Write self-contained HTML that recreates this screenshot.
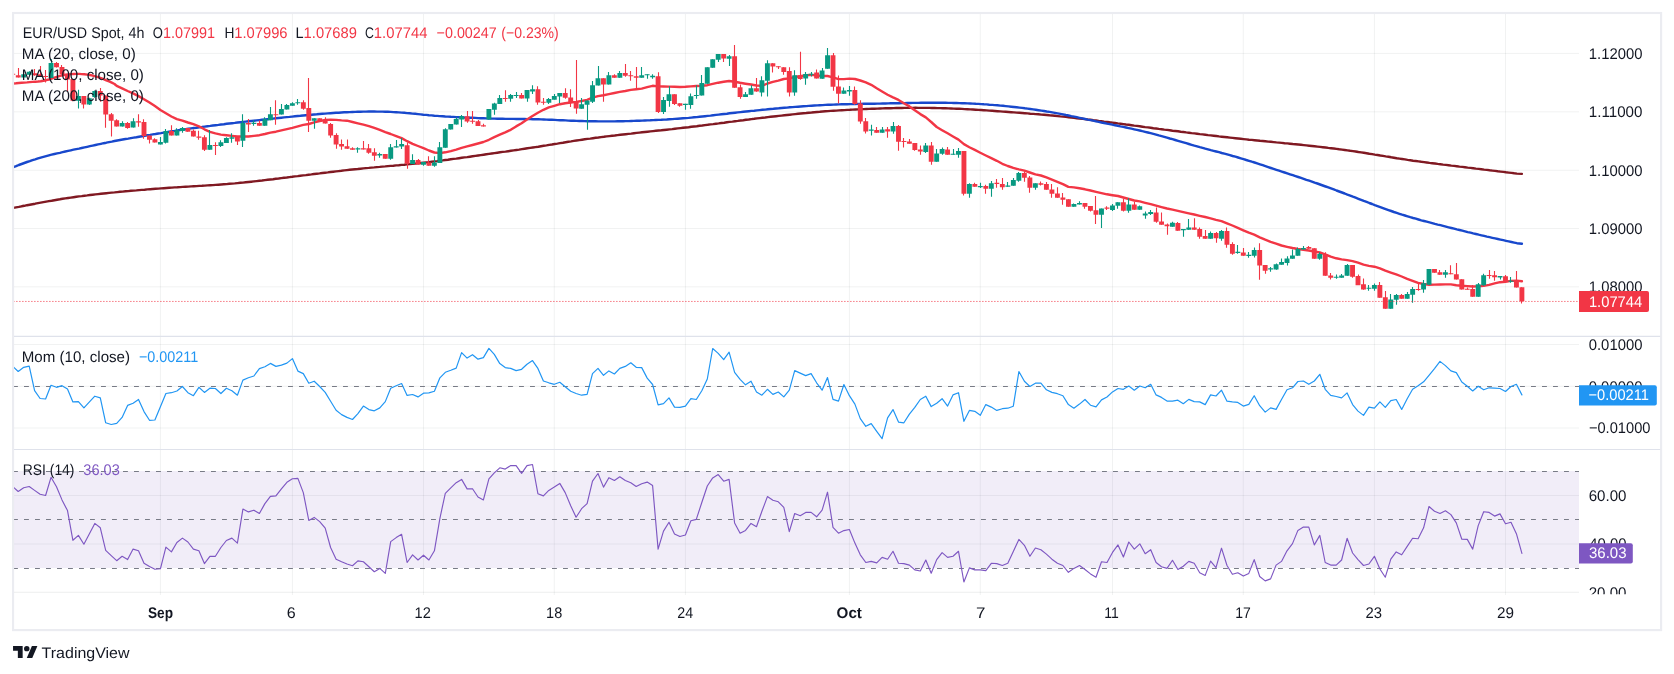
<!DOCTYPE html>
<html><head><meta charset="utf-8"><title>EUR/USD Spot 4h</title>
<style>html,body{margin:0;padding:0;background:#fff}svg{display:block;will-change:transform}</style></head>
<body>
<svg width="1674" height="674" viewBox="0 0 1674 674" text-rendering="geometricPrecision" font-family='"Liberation Sans", Arial, sans-serif'>
<rect width="1674" height="674" fill="#fff"/>
<g stroke="#33363a" stroke-opacity="0.065" stroke-width="1">
<line x1="160.4" y1="14" x2="160.4" y2="595"/>
<line x1="292.4" y1="14" x2="292.4" y2="595"/>
<line x1="423.5" y1="14" x2="423.5" y2="595"/>
<line x1="554.3" y1="14" x2="554.3" y2="595"/>
<line x1="685.4" y1="14" x2="685.4" y2="595"/>
<line x1="849.4" y1="14" x2="849.4" y2="595"/>
<line x1="980.3" y1="14" x2="980.3" y2="595"/>
<line x1="1112.5" y1="14" x2="1112.5" y2="595"/>
<line x1="1243.3" y1="14" x2="1243.3" y2="595"/>
<line x1="1374.4" y1="14" x2="1374.4" y2="595"/>
<line x1="1505.5" y1="14" x2="1505.5" y2="595"/>
<line x1="14" y1="53.4" x2="1579" y2="53.4"/>
<line x1="14" y1="111.8" x2="1579" y2="111.8"/>
<line x1="14" y1="170.3" x2="1579" y2="170.3"/>
<line x1="14" y1="228.5" x2="1579" y2="228.5"/>
<line x1="14" y1="286.8" x2="1579" y2="286.8"/>
<line x1="14" y1="344.5" x2="1579" y2="344.5"/>
<line x1="14" y1="386.3" x2="1579" y2="386.3"/>
<line x1="14" y1="428.0" x2="1579" y2="428.0"/>
<line x1="14" y1="495.5" x2="1579" y2="495.5"/>
<line x1="14" y1="544.0" x2="1579" y2="544.0"/>
</g>
<rect x="14" y="471.0" width="1565" height="97.0" fill="#7e57c2" fill-opacity="0.11"/>
<g stroke="#787b86" stroke-width="1" stroke-dasharray="4.9 6.1">
<clipPath id="c5"><rect x="14" y="14" width="1565" height="600"/></clipPath>
<line x1="13" y1="386.5" x2="1580" y2="386.5" clip-path="url(#c5)"/>
<line x1="13" y1="471.5" x2="1580" y2="471.5" clip-path="url(#c5)"/>
<line x1="13" y1="519.5" x2="1580" y2="519.5" clip-path="url(#c5)"/>
<line x1="13" y1="568.5" x2="1580" y2="568.5" clip-path="url(#c5)"/>
</g>
<clipPath id="c1"><rect x="12.8" y="14" width="1566.2" height="322"/></clipPath>
<clipPath id="c3"><rect x="14" y="450" width="1565" height="143"/></clipPath>
<g clip-path="url(#c1)">
<polyline points="13.4,207.9 16.1,207.4 18.8,206.9 21.6,206.3 24.3,205.8 27.0,205.2 29.8,204.7 32.5,204.2 35.2,203.7 38.0,203.1 40.7,202.6 43.4,202.1 46.2,201.6 48.9,201.1 51.6,200.7 54.4,200.2 57.1,199.7 59.9,199.3 62.6,198.8 65.3,198.4 68.1,198.0 70.8,197.6 73.5,197.2 76.3,196.8 79.0,196.4 81.7,196.1 84.5,195.7 87.2,195.4 89.9,195.0 92.7,194.7 95.4,194.4 98.1,194.1 100.9,193.8 103.6,193.5 106.3,193.2 109.1,192.9 111.8,192.6 114.5,192.4 117.3,192.1 120.0,191.8 122.7,191.6 125.5,191.3 128.2,191.1 130.9,190.8 133.7,190.6 136.4,190.4 139.1,190.1 141.9,189.9 144.6,189.7 147.3,189.4 150.1,189.2 152.8,189.0 155.5,188.8 158.3,188.6 161.0,188.4 163.7,188.2 166.5,188.0 169.2,187.8 171.9,187.6 174.7,187.4 177.4,187.3 180.1,187.1 182.9,186.9 185.6,186.7 188.3,186.6 191.1,186.4 193.8,186.2 196.5,186.1 199.3,185.9 202.0,185.8 204.7,185.6 207.5,185.4 210.2,185.2 212.9,185.1 215.7,184.9 218.4,184.7 221.1,184.5 223.9,184.3 226.6,184.1 229.3,183.8 232.1,183.6 234.8,183.4 237.5,183.1 240.3,182.8 243.0,182.6 245.7,182.3 248.5,182.0 251.2,181.7 253.9,181.4 256.7,181.1 259.4,180.8 262.1,180.5 264.9,180.1 267.6,179.8 270.3,179.5 273.1,179.2 275.8,178.8 278.6,178.5 281.3,178.1 284.0,177.8 286.8,177.5 289.5,177.1 292.2,176.8 295.0,176.4 297.7,176.1 300.4,175.7 303.2,175.4 305.9,175.1 308.6,174.7 311.4,174.4 314.1,174.0 316.8,173.7 319.6,173.4 322.3,173.0 325.0,172.7 327.8,172.4 330.5,172.0 333.2,171.7 336.0,171.4 338.7,171.1 341.4,170.8 344.2,170.4 346.9,170.1 349.6,169.8 352.4,169.5 355.1,169.2 357.8,169.0 360.6,168.7 363.3,168.4 366.0,168.1 368.8,167.9 371.5,167.6 374.2,167.4 377.0,167.1 379.7,166.9 382.4,166.6 385.2,166.4 387.9,166.1 390.6,165.9 393.4,165.7 396.1,165.4 398.8,165.2 401.6,164.9 404.3,164.7 407.0,164.4 409.8,164.1 412.5,163.9 415.2,163.6 418.0,163.3 420.7,163.0 423.4,162.7 426.2,162.4 428.9,162.1 431.6,161.7 434.4,161.4 437.1,161.1 439.8,160.7 442.6,160.4 445.3,160.0 448.0,159.7 450.8,159.3 453.5,158.9 456.2,158.6 459.0,158.2 461.7,157.8 464.4,157.4 467.2,157.1 469.9,156.7 472.6,156.3 475.4,155.9 478.1,155.5 480.8,155.1 483.6,154.7 486.3,154.3 489.0,153.9 491.8,153.5 494.5,153.1 497.3,152.7 500.0,152.3 502.7,151.9 505.5,151.6 508.2,151.2 510.9,150.8 513.7,150.4 516.4,150.0 519.1,149.6 521.9,149.1 524.6,148.7 527.3,148.3 530.1,147.9 532.8,147.5 535.5,147.1 538.3,146.7 541.0,146.2 543.7,145.8 546.5,145.4 549.2,144.9 551.9,144.5 554.7,144.0 557.4,143.6 560.1,143.1 562.9,142.7 565.6,142.2 568.3,141.8 571.1,141.4 573.8,140.9 576.5,140.5 579.3,140.1 582.0,139.7 584.7,139.3 587.5,138.9 590.2,138.6 592.9,138.2 595.7,137.8 598.4,137.5 601.1,137.1 603.9,136.8 606.6,136.4 609.3,136.1 612.1,135.8 614.8,135.5 617.5,135.1 620.3,134.8 623.0,134.5 625.7,134.2 628.5,133.9 631.2,133.6 633.9,133.2 636.7,132.9 639.4,132.6 642.1,132.3 644.9,132.0 647.6,131.7 650.3,131.4 653.1,131.1 655.8,130.8 658.5,130.5 661.3,130.3 664.0,130.0 666.7,129.7 669.5,129.4 672.2,129.1 674.9,128.7 677.7,128.4 680.4,128.1 683.1,127.8 685.9,127.5 688.6,127.2 691.3,126.8 694.1,126.5 696.8,126.2 699.5,125.8 702.3,125.5 705.0,125.1 707.7,124.8 710.5,124.4 713.2,124.1 716.0,123.7 718.7,123.4 721.4,123.0 724.2,122.7 726.9,122.3 729.6,121.9 732.4,121.6 735.1,121.2 737.8,120.9 740.6,120.5 743.3,120.2 746.0,119.8 748.8,119.5 751.5,119.1 754.2,118.8 757.0,118.4 759.7,118.1 762.4,117.8 765.2,117.5 767.9,117.1 770.6,116.8 773.4,116.5 776.1,116.2 778.8,115.9 781.6,115.6 784.3,115.3 787.0,115.0 789.8,114.7 792.5,114.4 795.2,114.1 798.0,113.8 800.7,113.5 803.4,113.2 806.2,113.0 808.9,112.7 811.6,112.5 814.4,112.2 817.1,112.0 819.8,111.8 822.6,111.5 825.3,111.3 828.0,111.1 830.8,110.9 833.5,110.7 836.2,110.6 839.0,110.4 841.7,110.2 844.4,110.1 847.2,109.9 849.9,109.8 852.6,109.6 855.4,109.5 858.1,109.4 860.8,109.3 863.6,109.1 866.3,109.0 869.0,108.9 871.8,108.8 874.5,108.7 877.2,108.6 880.0,108.5 882.7,108.4 885.4,108.3 888.2,108.2 890.9,108.2 893.6,108.1 896.4,108.0 899.1,108.0 901.8,108.0 904.6,107.9 907.3,107.9 910.0,107.9 912.8,107.9 915.5,107.8 918.2,107.9 921.0,107.9 923.7,107.9 926.4,107.9 929.2,107.9 931.9,108.0 934.7,108.0 937.4,108.1 940.1,108.1 942.9,108.2 945.6,108.3 948.3,108.4 951.1,108.5 953.8,108.6 956.5,108.7 959.3,108.8 962.0,108.9 964.7,109.1 967.5,109.2 970.2,109.4 972.9,109.5 975.7,109.7 978.4,109.9 981.1,110.0 983.9,110.2 986.6,110.4 989.3,110.6 992.1,110.8 994.8,111.0 997.5,111.2 1000.3,111.4 1003.0,111.6 1005.7,111.8 1008.5,112.0 1011.2,112.2 1013.9,112.4 1016.7,112.6 1019.4,112.8 1022.1,113.0 1024.9,113.2 1027.6,113.4 1030.3,113.7 1033.1,113.9 1035.8,114.1 1038.5,114.3 1041.3,114.6 1044.0,114.8 1046.7,115.0 1049.5,115.3 1052.2,115.5 1054.9,115.8 1057.7,116.1 1060.4,116.4 1063.1,116.6 1065.9,116.9 1068.6,117.2 1071.3,117.5 1074.1,117.8 1076.8,118.2 1079.5,118.5 1082.3,118.8 1085.0,119.1 1087.7,119.5 1090.5,119.8 1093.2,120.2 1095.9,120.5 1098.7,120.9 1101.4,121.2 1104.1,121.6 1106.9,121.9 1109.6,122.3 1112.3,122.6 1115.1,123.0 1117.8,123.4 1120.5,123.7 1123.3,124.1 1126.0,124.5 1128.7,124.8 1131.5,125.2 1134.2,125.6 1136.9,125.9 1139.7,126.3 1142.4,126.7 1145.1,127.1 1147.9,127.4 1150.6,127.8 1153.4,128.2 1156.1,128.5 1158.8,128.9 1161.6,129.2 1164.3,129.6 1167.0,129.9 1169.8,130.3 1172.5,130.7 1175.2,131.0 1178.0,131.3 1180.7,131.7 1183.4,132.0 1186.2,132.4 1188.9,132.7 1191.6,133.1 1194.4,133.4 1197.1,133.7 1199.8,134.1 1202.6,134.4 1205.3,134.7 1208.0,135.1 1210.8,135.4 1213.5,135.7 1216.2,136.0 1219.0,136.4 1221.7,136.7 1224.4,137.0 1227.2,137.3 1229.9,137.6 1232.6,137.9 1235.4,138.2 1238.1,138.5 1240.8,138.8 1243.6,139.1 1246.3,139.4 1249.0,139.7 1251.8,139.9 1254.5,140.2 1257.2,140.5 1260.0,140.8 1262.7,141.0 1265.4,141.3 1268.2,141.6 1270.9,141.8 1273.6,142.1 1276.4,142.4 1279.1,142.6 1281.8,142.9 1284.6,143.2 1287.3,143.4 1290.0,143.7 1292.8,144.0 1295.5,144.2 1298.2,144.5 1301.0,144.8 1303.7,145.1 1306.4,145.4 1309.2,145.7 1311.9,146.0 1314.6,146.3 1317.4,146.6 1320.1,146.9 1322.8,147.2 1325.6,147.5 1328.3,147.9 1331.0,148.2 1333.8,148.5 1336.5,148.9 1339.2,149.3 1342.0,149.6 1344.7,150.0 1347.4,150.4 1350.2,150.8 1352.9,151.1 1355.6,151.5 1358.4,152.0 1361.1,152.4 1363.8,152.8 1366.6,153.2 1369.3,153.7 1372.1,154.1 1374.8,154.6 1377.5,155.0 1380.3,155.5 1383.0,155.9 1385.7,156.4 1388.5,156.8 1391.2,157.3 1393.9,157.7 1396.7,158.2 1399.4,158.6 1402.1,159.0 1404.9,159.4 1407.6,159.9 1410.3,160.3 1413.1,160.7 1415.8,161.0 1418.5,161.4 1421.3,161.8 1424.0,162.1 1426.7,162.5 1429.5,162.9 1432.2,163.2 1434.9,163.5 1437.7,163.9 1440.4,164.2 1443.1,164.6 1445.9,164.9 1448.6,165.2 1451.3,165.6 1454.1,165.9 1456.8,166.2 1459.5,166.6 1462.3,166.9 1465.0,167.2 1467.7,167.6 1470.5,167.9 1473.2,168.2 1475.9,168.6 1478.7,168.9 1481.4,169.2 1484.1,169.6 1486.9,169.9 1489.6,170.3 1492.3,170.6 1495.1,170.9 1497.8,171.3 1500.5,171.6 1503.3,171.9 1506.0,172.3 1508.7,172.6 1511.5,172.9 1514.2,173.3 1516.9,173.6 1521.9,173.9" fill="none" stroke="#801922" stroke-width="2.4" stroke-linejoin="round" stroke-linecap="round"/>
<polyline points="13.4,167.1 16.1,166.1 18.8,165.0 21.6,164.0 24.3,163.0 27.0,162.0 29.8,161.1 32.5,160.1 35.2,159.3 38.0,158.4 40.7,157.6 43.4,156.8 46.2,156.1 48.9,155.4 51.6,154.7 54.4,154.0 57.1,153.4 59.9,152.8 62.6,152.1 65.3,151.5 68.1,150.9 70.8,150.3 73.5,149.7 76.3,149.1 79.0,148.6 81.7,148.0 84.5,147.4 87.2,146.8 89.9,146.2 92.7,145.6 95.4,145.0 98.1,144.4 100.9,143.8 103.6,143.2 106.3,142.7 109.1,142.1 111.8,141.6 114.5,141.0 117.3,140.5 120.0,140.0 122.7,139.5 125.5,139.0 128.2,138.6 130.9,138.1 133.7,137.6 136.4,137.2 139.1,136.7 141.9,136.2 144.6,135.8 147.3,135.3 150.1,134.9 152.8,134.4 155.5,134.0 158.3,133.5 161.0,133.1 163.7,132.6 166.5,132.2 169.2,131.7 171.9,131.3 174.7,130.9 177.4,130.4 180.1,130.0 182.9,129.6 185.6,129.2 188.3,128.8 191.1,128.4 193.8,128.0 196.5,127.7 199.3,127.3 202.0,127.0 204.7,126.6 207.5,126.2 210.2,125.9 212.9,125.5 215.7,125.2 218.4,124.9 221.1,124.5 223.9,124.2 226.6,123.8 229.3,123.5 232.1,123.2 234.8,122.9 237.5,122.5 240.3,122.2 243.0,121.9 245.7,121.6 248.5,121.3 251.2,121.0 253.9,120.7 256.7,120.4 259.4,120.1 262.1,119.8 264.9,119.5 267.6,119.2 270.3,118.9 273.1,118.6 275.8,118.3 278.6,118.0 281.3,117.7 284.0,117.4 286.8,117.1 289.5,116.9 292.2,116.6 295.0,116.3 297.7,116.0 300.4,115.8 303.2,115.5 305.9,115.2 308.6,115.0 311.4,114.7 314.1,114.5 316.8,114.3 319.6,114.0 322.3,113.8 325.0,113.6 327.8,113.4 330.5,113.2 333.2,113.0 336.0,112.8 338.7,112.7 341.4,112.5 344.2,112.3 346.9,112.2 349.6,112.1 352.4,112.0 355.1,111.9 357.8,111.8 360.6,111.7 363.3,111.6 366.0,111.6 368.8,111.5 371.5,111.5 374.2,111.5 377.0,111.6 379.7,111.6 382.4,111.6 385.2,111.7 387.9,111.8 390.6,111.9 393.4,112.1 396.1,112.2 398.8,112.4 401.6,112.6 404.3,112.8 407.0,113.1 409.8,113.3 412.5,113.6 415.2,113.8 418.0,114.1 420.7,114.4 423.4,114.7 426.2,114.9 428.9,115.2 431.6,115.4 434.4,115.7 437.1,115.9 439.8,116.1 442.6,116.3 445.3,116.5 448.0,116.6 450.8,116.8 453.5,116.9 456.2,117.1 459.0,117.2 461.7,117.3 464.4,117.5 467.2,117.6 469.9,117.7 472.6,117.8 475.4,117.9 478.1,118.1 480.8,118.2 483.6,118.3 486.3,118.4 489.0,118.5 491.8,118.6 494.5,118.6 497.3,118.7 500.0,118.8 502.7,118.8 505.5,118.9 508.2,118.9 510.9,118.9 513.7,118.9 516.4,119.0 519.1,119.0 521.9,119.0 524.6,119.0 527.3,119.1 530.1,119.1 532.8,119.2 535.5,119.2 538.3,119.3 541.0,119.4 543.7,119.5 546.5,119.6 549.2,119.7 551.9,119.8 554.7,119.9 557.4,120.1 560.1,120.2 562.9,120.3 565.6,120.4 568.3,120.6 571.1,120.7 573.8,120.8 576.5,120.9 579.3,121.0 582.0,121.0 584.7,121.1 587.5,121.2 590.2,121.3 592.9,121.3 595.7,121.3 598.4,121.4 601.1,121.4 603.9,121.4 606.6,121.4 609.3,121.4 612.1,121.4 614.8,121.4 617.5,121.3 620.3,121.3 623.0,121.2 625.7,121.1 628.5,121.1 631.2,121.0 633.9,120.9 636.7,120.8 639.4,120.7 642.1,120.6 644.9,120.5 647.6,120.4 650.3,120.3 653.1,120.1 655.8,120.0 658.5,119.9 661.3,119.8 664.0,119.6 666.7,119.5 669.5,119.3 672.2,119.1 674.9,118.9 677.7,118.7 680.4,118.5 683.1,118.3 685.9,118.1 688.6,117.9 691.3,117.6 694.1,117.3 696.8,117.1 699.5,116.8 702.3,116.5 705.0,116.2 707.7,115.9 710.5,115.6 713.2,115.2 716.0,114.9 718.7,114.6 721.4,114.3 724.2,114.0 726.9,113.7 729.6,113.3 732.4,113.0 735.1,112.7 737.8,112.4 740.6,112.1 743.3,111.8 746.0,111.5 748.8,111.2 751.5,110.9 754.2,110.7 757.0,110.4 759.7,110.1 762.4,109.8 765.2,109.6 767.9,109.3 770.6,109.0 773.4,108.8 776.1,108.5 778.8,108.3 781.6,108.0 784.3,107.8 787.0,107.6 789.8,107.3 792.5,107.1 795.2,106.9 798.0,106.7 800.7,106.5 803.4,106.3 806.2,106.1 808.9,105.9 811.6,105.7 814.4,105.5 817.1,105.4 819.8,105.2 822.6,105.1 825.3,104.9 828.0,104.8 830.8,104.7 833.5,104.6 836.2,104.5 839.0,104.4 841.7,104.3 844.4,104.2 847.2,104.2 849.9,104.1 852.6,104.1 855.4,104.0 858.1,103.9 860.8,103.9 863.6,103.8 866.3,103.8 869.0,103.8 871.8,103.7 874.5,103.7 877.2,103.6 880.0,103.6 882.7,103.5 885.4,103.5 888.2,103.4 890.9,103.3 893.6,103.3 896.4,103.2 899.1,103.2 901.8,103.1 904.6,103.1 907.3,103.0 910.0,103.0 912.8,102.9 915.5,102.9 918.2,102.9 921.0,102.8 923.7,102.8 926.4,102.8 929.2,102.8 931.9,102.8 934.7,102.8 937.4,102.8 940.1,102.8 942.9,102.8 945.6,102.8 948.3,102.9 951.1,102.9 953.8,103.0 956.5,103.0 959.3,103.1 962.0,103.2 964.7,103.3 967.5,103.4 970.2,103.5 972.9,103.6 975.7,103.8 978.4,103.9 981.1,104.1 983.9,104.3 986.6,104.4 989.3,104.7 992.1,104.9 994.8,105.1 997.5,105.3 1000.3,105.6 1003.0,105.8 1005.7,106.1 1008.5,106.4 1011.2,106.7 1013.9,107.0 1016.7,107.3 1019.4,107.6 1022.1,107.9 1024.9,108.3 1027.6,108.6 1030.3,109.0 1033.1,109.4 1035.8,109.8 1038.5,110.2 1041.3,110.6 1044.0,111.0 1046.7,111.5 1049.5,111.9 1052.2,112.4 1054.9,112.9 1057.7,113.4 1060.4,113.9 1063.1,114.4 1065.9,115.0 1068.6,115.5 1071.3,116.1 1074.1,116.6 1076.8,117.2 1079.5,117.8 1082.3,118.4 1085.0,119.0 1087.7,119.6 1090.5,120.1 1093.2,120.7 1095.9,121.3 1098.7,121.9 1101.4,122.5 1104.1,123.0 1106.9,123.6 1109.6,124.1 1112.3,124.7 1115.1,125.3 1117.8,125.8 1120.5,126.4 1123.3,126.9 1126.0,127.5 1128.7,128.1 1131.5,128.7 1134.2,129.3 1136.9,129.9 1139.7,130.5 1142.4,131.2 1145.1,131.8 1147.9,132.5 1150.6,133.2 1153.4,133.9 1156.1,134.6 1158.8,135.4 1161.6,136.1 1164.3,136.9 1167.0,137.7 1169.8,138.5 1172.5,139.2 1175.2,140.0 1178.0,140.8 1180.7,141.6 1183.4,142.4 1186.2,143.2 1188.9,144.0 1191.6,144.8 1194.4,145.6 1197.1,146.3 1199.8,147.1 1202.6,147.8 1205.3,148.6 1208.0,149.3 1210.8,150.1 1213.5,150.8 1216.2,151.5 1219.0,152.2 1221.7,153.0 1224.4,153.7 1227.2,154.4 1229.9,155.2 1232.6,156.0 1235.4,156.7 1238.1,157.5 1240.8,158.3 1243.6,159.1 1246.3,160.0 1249.0,160.8 1251.8,161.7 1254.5,162.5 1257.2,163.4 1260.0,164.3 1262.7,165.2 1265.4,166.1 1268.2,167.1 1270.9,168.0 1273.6,168.9 1276.4,169.8 1279.1,170.7 1281.8,171.6 1284.6,172.5 1287.3,173.4 1290.0,174.3 1292.8,175.2 1295.5,176.1 1298.2,177.0 1301.0,177.9 1303.7,178.8 1306.4,179.8 1309.2,180.7 1311.9,181.6 1314.6,182.6 1317.4,183.5 1320.1,184.5 1322.8,185.5 1325.6,186.5 1328.3,187.4 1331.0,188.4 1333.8,189.4 1336.5,190.5 1339.2,191.5 1342.0,192.5 1344.7,193.5 1347.4,194.6 1350.2,195.6 1352.9,196.7 1355.6,197.7 1358.4,198.8 1361.1,199.8 1363.8,200.9 1366.6,201.9 1369.3,203.0 1372.1,204.0 1374.8,205.1 1377.5,206.1 1380.3,207.1 1383.0,208.1 1385.7,209.1 1388.5,210.1 1391.2,211.0 1393.9,212.0 1396.7,212.9 1399.4,213.8 1402.1,214.7 1404.9,215.5 1407.6,216.3 1410.3,217.2 1413.1,218.0 1415.8,218.7 1418.5,219.5 1421.3,220.3 1424.0,221.0 1426.7,221.7 1429.5,222.4 1432.2,223.1 1434.9,223.9 1437.7,224.6 1440.4,225.2 1443.1,225.9 1445.9,226.6 1448.6,227.3 1451.3,228.0 1454.1,228.7 1456.8,229.4 1459.5,230.0 1462.3,230.7 1465.0,231.4 1467.7,232.1 1470.5,232.7 1473.2,233.4 1475.9,234.0 1478.7,234.7 1481.4,235.3 1484.1,235.9 1486.9,236.6 1489.6,237.2 1492.3,237.8 1495.1,238.4 1497.8,239.0 1500.5,239.6 1503.3,240.2 1506.0,240.8 1508.7,241.4 1511.5,242.0 1514.2,242.6 1516.9,243.2 1521.9,243.8" fill="none" stroke="#1848cc" stroke-width="2.4" stroke-linejoin="round" stroke-linecap="round"/>
<polyline points="13.4,83.5 16.1,83.3 18.8,83.0 21.6,82.8 24.3,82.6 27.0,82.4 29.8,82.1 32.5,81.9 35.2,81.7 38.0,81.5 40.7,81.2 43.4,80.7 46.2,80.2 48.9,79.5 51.6,78.6 54.4,77.7 57.1,76.8 59.9,75.9 62.6,75.3 65.3,74.8 68.1,74.4 70.8,74.1 73.5,74.0 76.3,73.9 79.0,73.9 81.7,74.1 84.5,74.3 87.2,74.6 89.9,75.0 92.7,75.6 95.4,76.3 98.1,77.1 100.9,78.1 103.6,79.1 106.3,80.3 109.1,81.4 111.8,82.7 114.5,84.0 116.7,85.9 122.1,88.4 127.6,91.0 133.1,93.4 138.5,96.1 144.0,99.2 149.5,102.5 154.9,106.0 160.4,110.0 165.9,113.3 171.4,116.5 176.9,119.1 182.4,120.6 187.9,122.5 193.4,124.2 198.9,126.3 204.4,129.3 209.9,131.8 215.4,133.4 220.9,134.6 226.4,135.2 231.9,135.9 237.4,136.5 242.9,136.5 248.4,136.5 253.9,135.9 259.4,135.2 264.9,134.0 270.4,132.6 275.9,131.7 281.4,130.4 286.9,129.2 292.4,127.9 297.9,126.4 303.3,124.9 308.8,124.0 314.2,122.4 319.7,121.1 325.2,120.0 330.6,119.6 336.1,119.9 341.6,120.4 347.0,120.7 352.5,122.0 357.9,123.3 363.4,124.7 368.9,126.1 374.3,127.9 379.8,129.9 385.3,132.1 390.7,134.0 396.2,136.1 401.6,138.1 407.1,141.2 412.6,143.8 418.0,146.0 423.5,148.2 428.9,150.5 434.4,152.5 439.9,153.1 445.3,152.3 450.8,151.1 456.2,149.6 461.6,147.9 467.1,146.4 472.5,145.0 478.0,143.5 483.4,142.0 488.9,139.8 494.3,137.1 499.8,134.6 505.2,132.3 510.7,129.8 516.1,126.4 521.6,123.3 527.0,119.6 532.5,116.0 537.9,112.8 543.4,109.8 548.8,107.4 554.3,105.8 559.8,104.2 565.2,103.2 570.7,102.5 576.1,101.9 581.6,101.0 587.1,99.8 592.5,97.7 598.0,96.1 603.5,95.2 608.9,94.1 614.4,93.0 619.8,91.9 625.3,91.0 630.8,89.9 636.2,89.3 641.7,88.6 647.2,87.1 652.6,85.8 658.1,86.4 663.5,86.5 669.0,86.6 674.5,86.8 679.9,87.0 685.4,86.8 690.9,86.4 696.3,86.0 701.8,85.8 707.3,85.2 712.7,83.9 718.2,82.7 723.7,81.8 729.1,81.0 734.6,81.7 740.1,82.8 745.5,83.7 751.0,84.5 756.5,85.5 761.9,85.9 767.4,83.5 772.9,81.9 778.3,80.6 783.8,79.0 789.3,78.4 794.7,77.0 800.2,76.2 805.7,75.2 811.1,74.9 816.6,75.4 822.1,76.0 827.5,76.0 833.0,77.3 838.5,79.1 843.9,79.1 849.4,78.6 854.9,79.0 860.3,80.5 865.8,82.4 871.2,84.8 876.7,88.3 882.1,91.5 887.6,94.7 893.0,97.4 898.5,99.9 903.9,103.2 909.4,106.4 914.8,110.2 920.3,114.1 925.8,117.4 931.2,122.0 936.7,127.0 942.1,130.2 947.6,133.3 953.0,136.5 958.5,139.6 963.9,144.1 969.4,147.2 974.8,149.9 980.3,152.7 985.8,155.5 991.3,158.2 996.8,160.8 1002.3,163.8 1007.8,166.0 1013.3,167.9 1018.9,169.4 1024.4,170.7 1029.9,172.5 1035.4,174.4 1040.9,175.5 1046.4,177.4 1051.9,179.6 1057.4,181.8 1062.9,184.1 1068.4,186.9 1073.9,187.4 1079.5,188.3 1085.0,189.3 1090.5,190.5 1096.0,191.8 1101.5,193.1 1107.0,194.3 1112.5,195.2 1118.0,196.0 1123.4,197.5 1128.8,199.0 1134.3,200.5 1139.8,201.4 1145.2,202.8 1150.7,204.1 1156.1,205.6 1161.5,207.1 1167.0,208.5 1172.5,209.6 1177.9,210.8 1183.3,212.1 1188.8,213.3 1194.2,214.5 1199.7,215.8 1205.2,217.0 1210.6,218.3 1216.0,219.8 1221.5,221.1 1227.0,223.3 1232.4,225.5 1237.8,227.9 1243.3,230.3 1248.8,232.7 1254.2,234.6 1259.7,237.3 1265.2,239.7 1270.6,241.8 1276.1,243.6 1281.5,245.5 1287.0,246.8 1292.5,248.0 1297.9,249.0 1303.4,249.8 1308.8,250.5 1314.3,251.5 1319.8,252.5 1325.2,254.3 1330.7,256.7 1336.2,258.3 1341.6,259.4 1347.1,260.1 1352.6,261.1 1358.0,262.7 1363.5,264.7 1368.9,265.9 1374.4,266.7 1379.9,268.3 1385.3,270.7 1390.8,272.6 1396.2,274.4 1401.7,276.5 1407.2,278.8 1412.6,280.8 1418.1,282.8 1423.6,284.0 1429.0,284.7 1434.5,284.6 1440.0,284.5 1445.4,284.4 1450.9,284.4 1456.3,285.2 1461.8,285.8 1467.3,286.1 1472.7,286.5 1478.2,286.4 1483.7,285.9 1489.1,284.9 1494.6,283.4 1500.0,282.2 1505.5,281.7 1511.0,280.9 1516.4,280.6 1521.9,281.3" fill="none" stroke="#f23645" stroke-width="2.4" stroke-linejoin="round" stroke-linecap="round"/>
<g fill="#f23645" stroke="#f23645" stroke-width="1.1">
<path d="M12.5 66.5V81.5M18.5 68.0V77.6M34.5 69.1V75.8M40.5 66.0V76.9M45.5 70.1V82.6M56.5 62.0V67.5M61.5 64.9V74.8M67.5 74.3V90.9M72.5 78.9V101.3M83.5 96.1V108.5M100.5 88.1V101.8M105.5 95.6V127.8M111.5 113.0V136.6M116.5 119.3V126.5M127.5 122.1V128.8M138.5 114.3V126.7M143.5 119.3V138.7M149.5 135.6V143.6M154.5 138.2V142.5M171.5 125.2V135.6M187.5 128.1V131.7M193.5 129.4V136.5M198.5 130.7V139.8M204.5 135.2V151.0M215.5 142.3V155.0M237.5 136.2V144.9M248.5 119.0V131.9M259.5 120.5V125.8M275.5 100.2V124.8M303.5 100.2V109.8M308.5 78.0V131.9M319.5 118.3V121.0M325.5 117.2V123.5M330.5 123.0V137.8M336.5 133.2V148.7M341.5 139.4V149.7M347.5 139.4V148.7M352.5 147.2V149.7M363.5 141.1V149.5M368.5 144.1V153.8M374.5 148.2V160.7M385.5 154.0V158.7M407.5 142.6V168.8M418.5 159.1V164.5M428.5 156.3V165.8M467.5 111.1V122.8M472.5 111.1V123.8M478.5 120.1V125.9M483.5 123.8V126.6M505.5 90.3V101.8M521.5 93.0V98.6M537.5 86.2V104.7M543.5 98.1V104.7M565.5 88.2V98.8M570.5 89.2V106.9M576.5 60.0V113.8M603.5 78.3V101.8M614.5 74.2V77.8M625.5 64.1V76.8M630.5 71.0V80.8M636.5 67.1V88.6M658.5 72.3V113.0M674.5 94.2V104.9M679.5 103.3V106.7M723.5 54.0V61.9M734.5 45.0V87.7M740.5 84.5V98.8M756.5 78.0V91.7M772.5 63.3V72.6M778.5 66.2V68.9M783.5 67.3V74.8M789.5 67.3V96.6M800.5 51.7V79.8M816.5 69.4V78.6M833.5 53.1V90.7M838.5 75.4V103.4M854.5 86.5V104.7M860.5 100.3V123.8M865.5 118.1V133.5M876.5 127.0V132.8M887.5 127.1V137.8M898.5 124.9V150.7M903.5 138.0V147.6M909.5 139.1V143.6M914.5 143.1V150.7M920.5 145.4V154.7M931.5 142.0V164.7M947.5 147.1V154.7M963.5 151.1V195.4M974.5 182.8V186.8M985.5 184.8V193.8M996.5 179.1V187.7M1002.5 178.1V189.8M1024.5 171.4V181.8M1029.5 176.1V192.8M1040.5 181.4V185.4M1046.5 182.1V189.8M1051.5 184.1V197.8M1057.5 187.2V197.8M1062.5 193.0V204.8M1068.5 199.2V206.8M1084.5 203.1V208.7M1090.5 206.0V211.6M1095.5 196.0V224.0M1106.5 206.3V210.0M1123.5 198.7V211.6M1134.5 201.7V209.8M1156.5 207.4V222.7M1161.5 212.4V224.7M1167.5 223.4V234.7M1177.5 222.0V230.7M1194.5 218.3V229.8M1199.5 227.4V238.7M1205.5 230.1V238.7M1216.5 232.1V242.7M1226.5 227.4V247.7M1232.5 242.3V254.8M1243.5 248.1V255.7M1259.5 243.3V279.8M1265.5 265.1V273.7M1308.5 246.0V248.7M1314.5 248.3V258.7M1325.5 252.3V275.8M1330.5 273.1V279.4M1352.5 265.1V277.7M1358.5 274.5V285.1M1363.5 278.5V289.7M1379.5 282.1V297.7M1385.5 291.0V308.8M1401.5 294.1V298.8M1418.5 282.5V290.7M1434.5 269.1V272.7M1439.5 270.0V274.7M1450.5 265.2V274.3M1456.5 263.1V279.6M1461.5 279.2V289.6M1467.5 287.6V289.6M1472.5 285.1V296.7M1489.5 270.0V278.7M1494.5 270.9V280.7M1505.5 275.0V281.8M1516.5 270.9V287.6M1521.5 287.2V303.6" fill="none"/>
<path d="M10.33 73.7h4.9v1.0h-4.9zM15.80 75.3h4.9v2.3h-4.9zM32.20 73.2h4.9v2.1h-4.9zM37.66 74.3h4.9v2.1h-4.9zM43.13 76.1h4.9v1.0h-4.9zM54.07 63.1h4.9v4.2h-4.9zM59.53 67.0h4.9v7.3h-4.9zM65.00 74.3h4.9v5.2h-4.9zM70.47 78.9h4.9v21.8h-4.9zM81.41 96.1h4.9v8.5h-4.9zM97.81 90.9h4.9v4.7h-4.9zM103.27 95.6h4.9v19.0h-4.9zM108.74 114.3h4.9v6.4h-4.9zM114.21 120.3h4.9v6.2h-4.9zM125.14 123.1h4.9v4.9h-4.9zM136.08 121.3h4.9v1.2h-4.9zM141.55 122.1h4.9v14.0h-4.9zM147.02 135.6h4.9v4.2h-4.9zM152.48 139.2h4.9v3.3h-4.9zM168.95 131.1h4.9v4.5h-4.9zM185.45 128.1h4.9v3.6h-4.9zM190.95 130.7h4.9v5.9h-4.9zM196.45 136.5h4.9v1.2h-4.9zM201.95 137.3h4.9v12.5h-4.9zM212.95 145.1h4.9v1.0h-4.9zM234.95 136.2h4.9v5.4h-4.9zM245.95 123.0h4.9v1.5h-4.9zM256.95 123.0h4.9v2.7h-4.9zM273.45 114.2h4.9v1.0h-4.9zM300.88 102.2h4.9v6.6h-4.9zM306.34 108.1h4.9v12.6h-4.9zM317.26 118.3h4.9v2.7h-4.9zM322.72 119.7h4.9v3.9h-4.9zM328.19 124.1h4.9v11.5h-4.9zM333.65 134.9h4.9v9.7h-4.9zM339.11 144.1h4.9v2.3h-4.9zM344.57 146.2h4.9v2.5h-4.9zM350.04 148.2h4.9v1.5h-4.9zM360.96 148.2h4.9v1.3h-4.9zM366.43 148.2h4.9v4.6h-4.9zM371.89 152.3h4.9v3.4h-4.9zM382.81 154.0h4.9v4.7h-4.9zM404.66 145.2h4.9v18.6h-4.9zM415.59 160.1h4.9v4.4h-4.9zM426.50 162.4h4.9v3.4h-4.9zM464.65 116.2h4.9v5.3h-4.9zM470.10 120.8h4.9v1.0h-4.9zM475.55 121.3h4.9v4.6h-4.9zM481.00 125.2h4.9v1.4h-4.9zM502.80 98.1h4.9v1.0h-4.9zM519.15 95.0h4.9v3.6h-4.9zM535.50 89.2h4.9v13.4h-4.9zM540.95 101.8h4.9v1.0h-4.9zM562.77 93.0h4.9v4.8h-4.9zM568.24 97.4h4.9v5.3h-4.9zM573.70 101.1h4.9v7.4h-4.9zM601.01 78.3h4.9v6.3h-4.9zM611.94 75.2h4.9v2.5h-4.9zM622.86 73.0h4.9v2.7h-4.9zM628.32 75.2h4.9v1.0h-4.9zM633.79 76.2h4.9v1.5h-4.9zM655.64 76.2h4.9v35.9h-4.9zM672.02 94.2h4.9v9.7h-4.9zM677.49 103.3h4.9v2.4h-4.9zM721.22 54.0h4.9v4.6h-4.9zM732.15 56.2h4.9v31.5h-4.9zM737.62 87.2h4.9v9.7h-4.9zM754.02 88.2h4.9v3.4h-4.9zM770.42 63.3h4.9v3.2h-4.9zM775.88 66.2h4.9v1.0h-4.9zM781.35 67.3h4.9v4.6h-4.9zM786.82 71.0h4.9v21.5h-4.9zM797.75 75.3h4.9v3.8h-4.9zM814.15 72.6h4.9v5.9h-4.9zM830.55 55.3h4.9v31.4h-4.9zM836.02 86.5h4.9v7.2h-4.9zM852.40 90.1h4.9v13.8h-4.9zM857.86 103.4h4.9v18.0h-4.9zM863.31 121.2h4.9v10.3h-4.9zM874.22 130.1h4.9v2.7h-4.9zM885.13 129.3h4.9v2.3h-4.9zM896.04 126.0h4.9v15.8h-4.9zM901.49 141.0h4.9v1.1h-4.9zM906.95 141.4h4.9v2.3h-4.9zM912.40 143.1h4.9v6.9h-4.9zM917.85 149.4h4.9v2.0h-4.9zM928.76 145.4h4.9v16.4h-4.9zM945.12 149.4h4.9v5.3h-4.9zM961.49 151.1h4.9v42.7h-4.9zM972.40 184.1h4.9v2.7h-4.9zM983.36 186.1h4.9v2.7h-4.9zM994.37 182.8h4.9v1.3h-4.9zM999.88 184.1h4.9v3.1h-4.9zM1021.92 173.0h4.9v4.8h-4.9zM1027.42 177.4h4.9v10.3h-4.9zM1038.44 183.2h4.9v1.6h-4.9zM1043.95 184.1h4.9v5.7h-4.9zM1049.46 189.4h4.9v4.4h-4.9zM1054.97 193.4h4.9v4.4h-4.9zM1060.47 197.4h4.9v2.3h-4.9zM1065.98 199.2h4.9v7.6h-4.9zM1082.51 203.1h4.9v3.6h-4.9zM1088.02 206.0h4.9v4.7h-4.9zM1093.52 210.3h4.9v4.4h-4.9zM1104.54 207.6h4.9v1.1h-4.9zM1120.95 202.3h4.9v8.4h-4.9zM1131.85 204.4h4.9v5.3h-4.9zM1153.65 212.4h4.9v9.3h-4.9zM1159.10 221.4h4.9v3.3h-4.9zM1164.55 224.4h4.9v1.9h-4.9zM1175.45 223.1h4.9v7.6h-4.9zM1191.80 227.4h4.9v2.4h-4.9zM1197.25 229.0h4.9v7.7h-4.9zM1202.70 236.1h4.9v2.7h-4.9zM1213.60 233.0h4.9v5.3h-4.9zM1224.50 231.1h4.9v13.6h-4.9zM1229.95 244.1h4.9v9.7h-4.9zM1240.85 252.5h4.9v3.2h-4.9zM1257.24 250.0h4.9v15.6h-4.9zM1262.70 265.1h4.9v5.6h-4.9zM1306.40 247.0h4.9v1.7h-4.9zM1311.86 248.3h4.9v10.4h-4.9zM1322.79 254.4h4.9v21.4h-4.9zM1328.25 275.4h4.9v2.3h-4.9zM1350.10 265.1h4.9v11.6h-4.9zM1355.56 276.1h4.9v9.1h-4.9zM1361.03 284.3h4.9v5.3h-4.9zM1377.41 285.1h4.9v12.6h-4.9zM1382.88 297.2h4.9v11.6h-4.9zM1399.26 295.0h4.9v3.7h-4.9zM1415.65 289.1h4.9v1.0h-4.9zM1432.04 269.1h4.9v3.6h-4.9zM1437.50 272.3h4.9v2.4h-4.9zM1448.42 273.2h4.9v1.1h-4.9zM1453.89 274.3h4.9v5.3h-4.9zM1459.35 279.2h4.9v10.4h-4.9zM1464.81 288.7h4.9v1.0h-4.9zM1470.27 289.0h4.9v7.7h-4.9zM1486.66 275.0h4.9v1.0h-4.9zM1492.12 275.3h4.9v2.0h-4.9zM1503.05 276.2h4.9v5.6h-4.9zM1513.98 280.7h4.9v6.9h-4.9zM1519.45 287.2h4.9v14.0h-4.9z" stroke="none"/>
</g>
<g fill="#089981" stroke="#089981" stroke-width="1.1">
<path d="M23.5 73.7V77.9M29.5 71.2V75.3M51.5 59.2V77.9M78.5 89.8V108.5M89.5 97.7V104.9M94.5 90.4V97.7M122.5 121.3V126.5M133.5 118.2V127.6M160.5 136.9V144.6M165.5 129.0V143.6M176.5 128.3V135.6M182.5 127.1V132.7M209.5 130.1V149.7M220.5 140.3V146.9M226.5 137.3V142.8M231.5 133.2V142.8M242.5 114.2V146.9M253.5 120.5V125.8M264.5 117.2V125.8M270.5 107.1V120.3M281.5 104.0V114.6M286.5 104.0V109.5M292.5 102.2V105.8M297.5 99.0V104.8M314.5 118.3V128.8M357.5 147.2V152.8M379.5 152.8V157.7M390.5 144.1V159.7M396.5 140.1V147.5M401.5 138.1V148.9M412.5 154.3V163.9M423.5 162.1V165.8M434.5 156.3V166.8M439.5 142.1V163.1M445.5 128.2V147.7M450.5 124.1V129.6M456.5 117.2V124.5M461.5 115.0V126.9M488.5 109.1V119.5M494.5 102.7V114.8M499.5 95.0V103.9M510.5 94.0V101.8M516.5 92.0V98.1M527.5 90.0V101.8M532.5 85.2V94.0M548.5 98.1V103.9M554.5 94.0V99.6M559.5 93.0V102.9M581.5 98.1V108.7M587.5 100.6V129.7M592.5 81.1V102.9M598.5 66.1V85.4M608.5 72.0V84.6M619.5 71.0V77.8M641.5 67.1V77.8M647.5 74.2V78.8M652.5 74.2V78.8M663.5 97.1V114.0M669.5 86.3V106.7M685.5 103.8V109.7M690.5 93.4V108.7M696.5 85.2V98.8M701.5 75.1V95.5M707.5 67.3V83.7M712.5 59.2V67.8M718.5 54.0V61.9M729.5 55.1V65.9M745.5 92.0V96.8M751.5 85.2V94.7M761.5 76.2V96.6M767.5 60.3V96.6M794.5 70.2V95.8M805.5 72.1V84.8M811.5 72.1V76.4M822.5 68.0V78.7M827.5 48.0V68.7M843.5 87.4V93.7M849.5 86.1V95.8M871.5 124.8V135.5M882.5 127.0V132.8M893.5 122.0V133.8M925.5 143.1V153.0M936.5 149.0V161.8M942.5 147.6V154.7M953.5 149.0V154.7M958.5 148.0V157.8M969.5 183.2V197.8M980.5 182.8V188.1M991.5 181.0V196.8M1007.5 182.1V186.8M1013.5 178.1V185.8M1018.5 172.1V181.8M1035.5 183.2V189.8M1073.5 203.4V206.7M1079.5 201.3V204.4M1101.5 208.4V228.1M1112.5 204.0V211.1M1117.5 202.3V208.7M1128.5 198.3V212.7M1139.5 205.4V209.8M1145.5 211.4V218.7M1150.5 210.0V215.1M1172.5 221.8V226.7M1183.5 229.0V236.7M1188.5 219.1V229.8M1210.5 231.4V238.7M1221.5 230.1V240.7M1237.5 245.0V253.8M1248.5 252.1V257.8M1254.5 247.4V257.6M1270.5 267.0V271.8M1276.5 263.4V269.7M1281.5 258.4V264.7M1287.5 256.3V265.6M1292.5 249.4V258.7M1297.5 247.4V255.8M1303.5 246.0V249.6M1319.5 252.3V259.8M1336.5 274.5V278.7M1341.5 274.1V277.7M1347.5 264.0V275.8M1368.5 285.1V290.7M1374.5 283.4V290.7M1390.5 294.1V308.8M1396.5 294.1V304.8M1407.5 292.1V298.8M1412.5 287.0V302.8M1423.5 280.0V292.8M1429.5 269.1V284.8M1445.5 270.0V277.8M1478.5 283.0V296.7M1483.5 273.8V285.8M1500.5 276.0V279.6M1510.5 277.1V282.7" fill="none"/>
<path d="M21.26 74.3h4.9v3.1h-4.9zM26.73 71.7h4.9v3.1h-4.9zM48.60 63.1h4.9v14.8h-4.9zM75.94 96.1h4.9v4.7h-4.9zM86.87 98.2h4.9v6.2h-4.9zM92.34 90.9h4.9v6.2h-4.9zM119.68 123.1h4.9v3.4h-4.9zM130.61 121.3h4.9v6.2h-4.9zM157.95 142.1h4.9v2.5h-4.9zM163.45 131.1h4.9v11.7h-4.9zM174.45 130.2h4.9v5.4h-4.9zM179.95 128.1h4.9v3.0h-4.9zM207.45 145.1h4.9v4.7h-4.9zM218.45 142.3h4.9v3.6h-4.9zM223.95 138.0h4.9v4.9h-4.9zM229.45 137.3h4.9v1.5h-4.9zM240.45 123.0h4.9v17.8h-4.9zM251.45 122.7h4.9v1.3h-4.9zM262.45 119.3h4.9v6.5h-4.9zM267.95 114.2h4.9v6.1h-4.9zM278.95 109.1h4.9v5.5h-4.9zM284.45 105.1h4.9v4.5h-4.9zM289.95 103.2h4.9v2.5h-4.9zM295.41 102.2h4.9v1.0h-4.9zM311.80 118.3h4.9v2.4h-4.9zM355.50 148.2h4.9v1.3h-4.9zM377.35 154.0h4.9v1.6h-4.9zM388.28 147.2h4.9v11.5h-4.9zM393.74 146.2h4.9v1.3h-4.9zM399.20 144.1h4.9v2.5h-4.9zM410.12 160.1h4.9v3.9h-4.9zM421.05 162.1h4.9v2.6h-4.9zM431.95 162.4h4.9v3.4h-4.9zM437.40 147.2h4.9v15.9h-4.9zM442.85 129.2h4.9v18.5h-4.9zM448.30 124.1h4.9v5.5h-4.9zM453.75 119.1h4.9v5.5h-4.9zM459.20 116.2h4.9v3.2h-4.9zM486.45 109.1h4.9v10.4h-4.9zM491.90 103.5h4.9v6.3h-4.9zM497.35 98.1h4.9v5.8h-4.9zM508.25 95.0h4.9v3.8h-4.9zM513.70 95.0h4.9v1.0h-4.9zM524.60 90.0h4.9v8.6h-4.9zM530.05 89.2h4.9v2.4h-4.9zM546.40 99.1h4.9v3.6h-4.9zM551.85 96.1h4.9v3.6h-4.9zM557.31 93.0h4.9v3.6h-4.9zM579.16 104.2h4.9v4.6h-4.9zM584.62 100.6h4.9v4.1h-4.9zM590.09 85.2h4.9v16.5h-4.9zM595.55 78.3h4.9v7.1h-4.9zM606.47 75.2h4.9v9.3h-4.9zM617.40 73.0h4.9v4.8h-4.9zM639.25 75.2h4.9v2.5h-4.9zM644.71 74.2h4.9v1.0h-4.9zM650.17 75.7h4.9v1.5h-4.9zM661.10 100.1h4.9v11.8h-4.9zM666.56 94.2h4.9v6.8h-4.9zM682.95 103.8h4.9v1.1h-4.9zM688.42 96.3h4.9v8.6h-4.9zM693.88 94.9h4.9v1.1h-4.9zM699.35 83.1h4.9v12.5h-4.9zM704.82 67.3h4.9v16.5h-4.9zM710.28 59.2h4.9v8.6h-4.9zM715.75 54.0h4.9v5.7h-4.9zM726.68 56.2h4.9v2.5h-4.9zM743.08 94.2h4.9v2.7h-4.9zM748.55 88.2h4.9v6.5h-4.9zM759.48 80.2h4.9v12.4h-4.9zM764.95 63.3h4.9v17.4h-4.9zM792.28 75.3h4.9v17.2h-4.9zM803.22 74.0h4.9v4.5h-4.9zM808.68 73.7h4.9v1.0h-4.9zM819.62 70.4h4.9v8.3h-4.9zM825.08 55.3h4.9v13.4h-4.9zM841.48 90.5h4.9v3.2h-4.9zM846.95 90.1h4.9v1.3h-4.9zM868.77 129.4h4.9v1.3h-4.9zM879.67 129.4h4.9v3.3h-4.9zM890.58 126.0h4.9v5.6h-4.9zM923.31 145.4h4.9v6.7h-4.9zM934.22 153.4h4.9v8.4h-4.9zM939.67 149.0h4.9v4.8h-4.9zM950.58 153.8h4.9v1.0h-4.9zM956.03 151.1h4.9v3.6h-4.9zM966.94 184.1h4.9v9.7h-4.9zM977.85 186.1h4.9v1.1h-4.9zM988.87 183.2h4.9v5.6h-4.9zM1005.39 185.4h4.9v1.3h-4.9zM1010.90 180.1h4.9v5.7h-4.9zM1016.41 173.0h4.9v7.7h-4.9zM1032.93 183.2h4.9v4.5h-4.9zM1071.49 204.0h4.9v2.7h-4.9zM1077.00 203.1h4.9v1.3h-4.9zM1099.03 208.4h4.9v6.3h-4.9zM1110.05 205.4h4.9v4.7h-4.9zM1115.50 202.3h4.9v3.5h-4.9zM1126.40 204.4h4.9v6.3h-4.9zM1137.30 206.3h4.9v3.5h-4.9zM1142.75 213.4h4.9v2.0h-4.9zM1148.20 212.0h4.9v2.0h-4.9zM1170.00 222.7h4.9v4.0h-4.9zM1180.90 229.0h4.9v1.3h-4.9zM1186.35 227.4h4.9v2.4h-4.9zM1208.15 233.0h4.9v5.7h-4.9zM1219.05 231.1h4.9v7.6h-4.9zM1235.40 251.7h4.9v1.3h-4.9zM1246.31 254.8h4.9v1.3h-4.9zM1251.77 250.0h4.9v5.7h-4.9zM1268.16 268.3h4.9v1.1h-4.9zM1273.62 264.3h4.9v5.3h-4.9zM1279.09 262.0h4.9v2.7h-4.9zM1284.55 258.4h4.9v4.5h-4.9zM1290.01 255.4h4.9v3.3h-4.9zM1295.47 249.1h4.9v6.7h-4.9zM1300.94 248.0h4.9v1.6h-4.9zM1317.33 254.0h4.9v4.7h-4.9zM1333.71 276.7h4.9v1.0h-4.9zM1339.17 275.4h4.9v2.3h-4.9zM1344.64 265.1h4.9v10.7h-4.9zM1366.49 287.8h4.9v1.0h-4.9zM1371.95 285.1h4.9v3.6h-4.9zM1388.34 299.4h4.9v9.3h-4.9zM1393.80 295.0h4.9v4.8h-4.9zM1404.73 294.1h4.9v4.7h-4.9zM1410.19 289.1h4.9v5.6h-4.9zM1421.11 283.2h4.9v6.4h-4.9zM1426.58 269.1h4.9v15.7h-4.9zM1442.96 272.3h4.9v2.4h-4.9zM1475.74 284.2h4.9v12.5h-4.9zM1481.20 275.2h4.9v10.0h-4.9zM1497.59 276.0h4.9v1.6h-4.9zM1508.52 280.7h4.9v1.0h-4.9z" stroke="none"/>
</g>
</g>
<line x1="13.4" y1="301.45" x2="1578.5" y2="301.45" stroke="#f23645" stroke-width="1" stroke-dasharray="1 2"/>
<polyline points="12.8,366.4 18.2,371.5 23.7,367.3 29.2,366.1 34.6,390.7 40.1,398.5 45.6,399.0 51.0,385.3 56.5,387.3 62.0,385.7 67.5,389.0 72.9,401.9 78.4,401.6 83.9,407.9 94.8,396.2 100.3,397.9 105.7,422.8 111.2,424.5 116.7,423.3 122.1,417.4 127.6,405.4 133.1,403.2 138.5,399.4 144.0,411.6 149.5,420.3 154.9,420.0 165.9,393.5 171.4,392.7 176.9,391.0 182.4,386.5 187.9,392.7 193.4,395.7 198.9,387.3 204.4,392.4 209.9,388.2 215.4,388.5 220.9,393.5 226.4,388.2 231.9,390.7 237.4,395.2 242.9,380.1 248.4,377.8 253.9,376.0 259.4,368.6 264.9,366.8 270.4,363.4 275.9,366.4 281.4,365.1 286.9,363.1 292.4,358.6 297.9,371.1 303.3,373.6 308.8,383.2 314.2,381.2 319.7,386.5 325.2,392.4 330.6,401.2 336.1,410.3 341.6,414.6 347.0,417.4 352.5,419.5 357.9,413.6 363.4,406.1 368.9,409.6 374.3,410.8 379.8,407.9 385.3,401.6 390.7,388.2 396.2,385.7 401.6,383.5 407.1,395.4 412.6,394.5 418.0,396.9 423.5,393.2 428.9,392.9 434.4,391.2 439.9,377.8 445.3,372.3 450.8,370.3 456.2,368.1 461.6,352.6 467.1,358.1 472.5,354.7 478.0,359.2 483.4,357.6 488.9,348.4 494.3,354.4 499.8,363.6 505.2,367.6 510.7,368.4 516.1,370.6 521.6,369.3 527.0,364.3 532.5,360.6 537.9,368.4 543.4,381.0 548.8,382.8 554.3,384.3 559.8,382.3 565.2,386.8 570.7,391.2 576.1,393.5 581.6,395.2 587.1,394.4 592.5,373.6 598.0,368.4 603.5,375.3 608.9,370.9 614.4,374.0 619.8,368.4 625.3,366.4 630.8,362.8 636.2,367.3 641.7,367.6 647.2,378.1 652.6,384.5 658.1,404.9 663.5,403.7 669.0,397.9 674.5,407.1 679.9,407.4 685.4,406.2 690.9,398.7 696.3,399.5 701.8,390.7 707.3,379.0 712.7,348.5 718.2,353.4 723.7,359.7 729.1,352.2 734.6,372.3 740.1,379.3 745.5,384.8 751.0,381.2 756.5,391.9 761.9,395.2 767.4,389.3 772.9,394.4 778.3,392.0 783.8,396.9 789.3,390.2 794.7,370.6 800.2,373.1 805.7,375.6 811.1,373.6 816.6,382.8 822.1,390.2 827.5,377.6 833.0,399.4 838.5,401.1 843.9,384.5 849.4,395.7 854.9,404.1 860.3,418.6 865.8,426.3 871.2,423.6 876.7,431.3 882.1,438.7 887.6,417.9 893.0,409.6 898.5,422.1 903.9,422.8 909.4,414.1 914.8,407.4 920.3,399.5 925.8,396.2 931.2,406.6 936.7,403.2 942.1,398.7 947.6,406.1 953.0,394.9 958.5,392.7 963.9,421.3 969.4,410.4 974.8,411.3 980.3,415.3 985.8,404.6 991.3,407.1 996.8,410.4 1002.3,408.7 1007.8,408.2 1013.3,406.2 1018.9,371.5 1024.4,381.2 1029.9,386.5 1035.4,383.2 1040.9,383.2 1046.4,389.8 1051.9,392.4 1057.4,393.7 1062.9,395.7 1068.4,404.6 1073.9,408.2 1079.5,404.1 1085.0,399.5 1090.5,405.2 1096.0,406.9 1101.5,399.9 1107.0,397.0 1112.5,391.9 1118.0,388.5 1123.4,389.3 1128.8,386.0 1134.3,390.2 1139.8,386.0 1145.2,387.8 1150.7,384.3 1156.1,394.9 1161.5,397.4 1167.0,401.1 1172.5,401.1 1177.9,400.2 1183.3,403.7 1188.8,399.4 1194.2,401.6 1199.7,401.9 1205.2,404.6 1210.6,394.9 1216.0,396.0 1221.5,390.2 1227.0,401.2 1232.4,401.9 1237.8,402.4 1243.3,406.1 1248.8,404.4 1254.2,395.7 1259.7,405.7 1265.2,412.1 1270.6,407.9 1276.1,409.4 1281.5,399.5 1287.0,389.8 1292.5,387.8 1297.9,381.5 1303.4,381.0 1308.8,384.3 1314.3,381.0 1319.8,374.3 1325.2,389.3 1330.7,395.4 1336.2,396.5 1341.6,397.9 1347.1,392.9 1352.6,404.6 1358.0,411.1 1363.5,415.4 1368.9,407.1 1374.4,408.2 1379.9,401.9 1385.3,407.4 1390.8,400.7 1396.2,399.5 1401.7,409.4 1407.2,398.7 1412.6,389.3 1418.1,385.7 1423.6,381.8 1429.0,375.3 1434.5,368.6 1440.0,361.4 1445.4,365.6 1450.9,370.9 1456.3,372.6 1461.8,382.0 1467.3,386.2 1472.7,391.0 1478.2,386.2 1483.7,389.8 1489.1,387.8 1494.6,388.2 1500.0,388.5 1505.5,391.5 1511.0,386.5 1516.4,384.3 1521.9,394.9" fill="none" stroke="#2196f3" stroke-width="1.2" stroke-linejoin="round" stroke-linecap="round"/>
<g clip-path="url(#c3)">
<polyline points="12.8,486.7 18.2,491.5 23.7,487.8 29.2,486.5 34.6,490.4 40.1,494.2 45.6,495.5 51.0,477.3 56.5,486.7 62.0,499.9 67.5,510.6 72.9,540.3 78.4,535.4 83.9,544.2 94.8,523.4 100.3,527.8 105.7,550.4 111.2,555.6 116.7,560.7 122.1,556.3 127.6,559.6 133.1,549.1 138.5,550.8 144.0,563.3 149.5,566.6 154.9,569.3 160.4,568.8 165.9,547.1 171.4,551.9 176.9,542.5 182.4,538.1 187.9,542.0 193.4,549.1 198.9,550.8 204.4,563.6 209.9,556.3 215.4,556.3 220.9,547.5 226.4,540.5 231.9,538.1 237.4,543.1 242.9,509.1 248.4,511.9 253.9,510.2 259.4,513.5 264.9,503.6 270.4,496.4 275.9,495.9 281.4,488.9 286.9,482.3 292.4,478.8 297.9,478.4 303.3,492.6 308.8,520.5 314.2,517.4 319.7,521.6 325.2,528.2 330.6,547.5 336.1,559.2 341.6,561.8 347.0,564.0 352.5,565.7 357.9,560.9 363.4,561.8 368.9,566.8 374.3,571.7 379.8,568.4 385.3,573.4 390.7,541.6 396.2,537.6 401.6,534.3 407.1,562.5 412.6,554.8 418.0,560.0 423.5,555.2 428.9,560.0 434.4,550.8 439.9,518.3 445.3,493.3 450.8,487.8 456.2,482.7 461.6,479.4 467.1,488.9 472.5,488.7 478.0,497.0 483.4,499.9 488.9,478.8 494.3,472.9 499.8,467.8 505.2,469.1 510.7,465.6 516.1,465.6 521.6,473.3 527.0,465.6 532.5,464.5 537.9,493.7 543.4,495.9 548.8,490.4 554.3,487.1 559.8,483.4 565.2,492.6 570.7,505.8 576.1,517.2 581.6,508.7 587.1,503.6 592.5,481.2 598.0,473.5 603.5,487.1 608.9,477.7 614.4,480.5 619.8,476.8 625.3,480.5 630.8,482.7 636.2,486.5 641.7,483.8 647.2,482.1 652.6,485.6 658.1,549.1 663.5,531.1 669.0,522.3 674.5,533.9 679.9,536.5 685.4,535.0 690.9,520.7 696.3,519.4 701.8,502.5 707.3,486.0 712.7,477.9 718.2,474.6 723.7,481.2 729.1,479.4 734.6,522.9 740.1,533.2 745.5,530.4 751.0,523.4 756.5,526.7 761.9,511.3 767.4,496.6 772.9,500.3 778.3,501.8 783.8,507.3 789.3,531.7 794.7,513.5 800.2,515.7 805.7,512.4 811.1,512.4 816.6,516.8 822.1,510.2 827.5,492.2 833.0,527.3 838.5,533.2 843.9,530.6 849.4,529.5 854.9,543.1 860.3,554.8 865.8,562.5 871.2,561.4 876.7,562.9 882.1,557.4 887.6,559.2 893.0,551.3 898.5,563.3 903.9,563.6 909.4,565.1 914.8,569.9 920.3,571.0 925.8,560.0 931.2,573.2 936.7,559.6 942.1,552.6 947.6,557.4 953.0,556.3 958.5,551.3 963.9,582.0 969.4,567.9 974.8,569.9 980.3,569.9 985.8,570.6 991.3,563.3 996.8,563.6 1002.3,565.5 1007.8,563.3 1013.3,551.5 1018.9,539.4 1024.4,545.3 1029.9,556.3 1035.4,548.0 1040.9,549.7 1046.4,554.1 1051.9,559.2 1057.4,563.3 1062.9,565.5 1068.4,572.3 1073.9,568.4 1079.5,565.5 1085.0,569.5 1090.5,573.9 1096.0,577.2 1101.5,561.8 1107.0,562.5 1112.5,552.4 1118.0,544.9 1123.4,557.0 1128.8,542.0 1134.3,549.1 1139.8,543.8 1145.2,553.7 1150.7,549.7 1156.1,562.5 1161.5,566.8 1167.0,568.4 1172.5,560.3 1177.9,569.5 1183.3,566.2 1188.8,561.4 1194.2,563.3 1199.7,572.8 1205.2,575.4 1210.6,561.1 1216.0,567.7 1221.5,548.2 1227.0,565.5 1232.4,574.3 1237.8,572.8 1243.3,576.1 1248.8,573.4 1254.2,559.6 1259.7,576.5 1265.2,580.9 1270.6,578.9 1276.1,565.1 1281.5,561.4 1287.0,550.8 1292.5,543.6 1297.9,530.4 1303.4,527.1 1308.8,527.1 1314.3,544.9 1319.8,535.4 1325.2,562.5 1330.7,565.1 1336.2,565.1 1341.6,560.0 1347.1,538.3 1352.6,553.0 1358.0,559.6 1363.5,565.5 1368.9,564.0 1374.4,556.3 1379.9,569.0 1385.3,577.2 1390.8,559.2 1396.2,551.9 1401.7,554.8 1407.2,546.4 1412.6,538.3 1418.1,538.7 1423.6,527.8 1429.0,506.5 1434.5,511.3 1440.0,513.5 1445.4,510.8 1450.9,514.6 1456.3,522.9 1461.8,539.2 1467.3,539.4 1472.7,549.1 1478.2,525.6 1483.7,511.7 1489.1,512.4 1494.6,516.1 1500.0,513.9 1505.5,523.8 1511.0,522.3 1516.4,533.7 1521.9,553.4" fill="none" stroke="#7e57c2" stroke-width="1.15" stroke-linejoin="round" stroke-linecap="round"/>
</g>
<g fill="none">
<rect x="13.05" y="13" width="1648.05" height="617.10" stroke-width="2.1" stroke="#ebecf1"/>
<line x1="14" y1="336.45" x2="1660.2" y2="336.45" stroke-width="1.2" stroke="#dfe2eb"/>
<line x1="14" y1="449.5" x2="1660.2" y2="449.5" stroke-width="1.2" stroke="#dfe2eb"/>
<line x1="14" y1="592.3" x2="1579" y2="592.3" stroke-width="1" stroke="#2a2e39" stroke-opacity="0.08"/>
</g>
<text x="22.83" y="37.9" font-size="15.4" fill="#131722" text-anchor="start" font-weight="normal" textLength="121.60" lengthAdjust="spacingAndGlyphs">EUR/USD Spot, 4h</text>
<text x="152.78" y="37.9" font-size="15.4" fill="#131722" text-anchor="start" font-weight="normal" textLength="10.14" lengthAdjust="spacingAndGlyphs">O</text>
<text x="162.90" y="37.9" font-size="15.4" fill="#f23645" text-anchor="start" font-weight="normal" textLength="52.10" lengthAdjust="spacingAndGlyphs">1.07991</text>
<text x="224.47" y="37.9" font-size="15.4" fill="#131722" text-anchor="start" font-weight="normal" textLength="9.95" lengthAdjust="spacingAndGlyphs">H</text>
<text x="234.28" y="37.9" font-size="15.4" fill="#f23645" text-anchor="start" font-weight="normal" textLength="53.27" lengthAdjust="spacingAndGlyphs">1.07996</text>
<text x="295.41" y="37.9" font-size="15.4" fill="#131722" text-anchor="start" font-weight="normal" textLength="8.07" lengthAdjust="spacingAndGlyphs">L</text>
<text x="303.58" y="37.9" font-size="15.4" fill="#f23645" text-anchor="start" font-weight="normal" textLength="53.32" lengthAdjust="spacingAndGlyphs">1.07689</text>
<text x="365.07" y="37.9" font-size="15.4" fill="#131722" text-anchor="start" font-weight="normal" textLength="8.89" lengthAdjust="spacingAndGlyphs">C</text>
<text x="373.87" y="37.9" font-size="15.4" fill="#f23645" text-anchor="start" font-weight="normal" textLength="53.56" lengthAdjust="spacingAndGlyphs">1.07744</text>
<text x="436.59" y="37.9" font-size="15.4" fill="#f23645" text-anchor="start" font-weight="normal" textLength="60.13" lengthAdjust="spacingAndGlyphs">−0.00247</text>
<text x="501.33" y="37.9" font-size="15.4" fill="#f23645" text-anchor="start" font-weight="normal" textLength="57.34" lengthAdjust="spacingAndGlyphs">(−0.23%)</text>
<text x="21.86" y="58.9" font-size="15.4" fill="#131722" text-anchor="start" font-weight="normal" textLength="113.97" lengthAdjust="spacingAndGlyphs">MA (20, close, 0)</text>
<text x="21.87" y="79.9" font-size="15.4" fill="#131722" text-anchor="start" font-weight="normal" textLength="122.07" lengthAdjust="spacingAndGlyphs">MA (100, close, 0)</text>
<text x="21.87" y="100.9" font-size="15.4" fill="#131722" text-anchor="start" font-weight="normal" textLength="122.07" lengthAdjust="spacingAndGlyphs">MA (200, close, 0)</text>
<text x="21.76" y="361.8" font-size="15.4" fill="#131722" text-anchor="start" font-weight="normal" textLength="108.28" lengthAdjust="spacingAndGlyphs">Mom (10, close)</text>
<text x="138.90" y="361.8" font-size="15.4" fill="#2196f3" text-anchor="start" font-weight="normal" textLength="59.39" lengthAdjust="spacingAndGlyphs">−0.00211</text>
<text x="22.76" y="474.8" font-size="15.4" fill="#131722" text-anchor="start" font-weight="normal" textLength="51.70" lengthAdjust="spacingAndGlyphs">RSI (14)</text>
<text x="83.34" y="474.8" font-size="15.4" fill="#7e57c2" text-anchor="start" font-weight="normal" textLength="36.50" lengthAdjust="spacingAndGlyphs">36.03</text>
<text x="1588.77" y="58.8" font-size="15.4" fill="#131722" text-anchor="start" font-weight="normal" textLength="53.71" lengthAdjust="spacingAndGlyphs">1.12000</text>
<text x="1588.77" y="117.2" font-size="15.4" fill="#131722" text-anchor="start" font-weight="normal" textLength="53.71" lengthAdjust="spacingAndGlyphs">1.11000</text>
<text x="1588.77" y="175.7" font-size="15.4" fill="#131722" text-anchor="start" font-weight="normal" textLength="53.71" lengthAdjust="spacingAndGlyphs">1.10000</text>
<text x="1588.77" y="233.9" font-size="15.4" fill="#131722" text-anchor="start" font-weight="normal" textLength="53.71" lengthAdjust="spacingAndGlyphs">1.09000</text>
<text x="1588.77" y="292.2" font-size="15.4" fill="#131722" text-anchor="start" font-weight="normal" textLength="53.71" lengthAdjust="spacingAndGlyphs">1.08000</text>
<text x="1588.72" y="349.9" font-size="15.4" fill="#131722" text-anchor="start" font-weight="normal" textLength="53.76" lengthAdjust="spacingAndGlyphs">0.01000</text>
<text x="1588.72" y="391.7" font-size="15.4" fill="#131722" text-anchor="start" font-weight="normal" textLength="53.76" lengthAdjust="spacingAndGlyphs">0.00000</text>
<text x="1588.73" y="500.8" font-size="15.4" fill="#131722" text-anchor="start" font-weight="normal" textLength="37.76" lengthAdjust="spacingAndGlyphs">60.00</text>
<text x="1589.16" y="549.3" font-size="15.4" fill="#131722" text-anchor="start" font-weight="normal" textLength="37.32" lengthAdjust="spacingAndGlyphs">40.00</text>
<text x="1588.88" y="432.8" font-size="15.4" fill="#131722" text-anchor="start" font-weight="normal" textLength="61.60" lengthAdjust="spacingAndGlyphs">−0.01000</text>
<clipPath id="c4"><rect x="1580" y="570" width="80" height="24.3"/></clipPath>
<text x="1588.74" y="597.7" font-size="15.4" fill="#131722" text-anchor="start" font-weight="normal" textLength="37.75" lengthAdjust="spacingAndGlyphs" clip-path="url(#c4)">20.00</text>
<path d="M1579 291.1h68a2 2 0 0 1 2 2v16.8a2 2 0 0 1 -2 2h-68z" fill="#f23645"/>
<text x="1588.88" y="306.8" font-size="15.4" fill="#fff" text-anchor="start" font-weight="normal" textLength="53.36" lengthAdjust="spacingAndGlyphs">1.07744</text>
<path d="M1579 385.2h75.8a2 2 0 0 1 2 2v16.4a2 2 0 0 1 -2 2h-75.8z" fill="#2196f3"/>
<text x="1588.49" y="400.4" font-size="15.4" fill="#fff" text-anchor="start" font-weight="normal" textLength="60.51" lengthAdjust="spacingAndGlyphs">−0.00211</text>
<path d="M1579 543.2h51.8a2 2 0 0 1 2 2v16.2a2 2 0 0 1 -2 2h-51.8z" fill="#7e57c2"/>
<text x="1588.93" y="558.3" font-size="15.4" fill="#fff" text-anchor="start" font-weight="normal" textLength="37.63" lengthAdjust="spacingAndGlyphs">36.03</text>
<text x="148.01" y="617.9" font-size="15.4" fill="#131722" text-anchor="start" font-weight="bold" textLength="25.05" lengthAdjust="spacingAndGlyphs">Sep</text>
<text x="286.69" y="617.9" font-size="15.4" fill="#131722" text-anchor="start" font-weight="normal" textLength="8.92" lengthAdjust="spacingAndGlyphs">6</text>
<text x="414.59" y="617.9" font-size="15.4" fill="#131722" text-anchor="start" font-weight="normal" textLength="16.25" lengthAdjust="spacingAndGlyphs">12</text>
<text x="546.10" y="617.9" font-size="15.4" fill="#131722" text-anchor="start" font-weight="normal" textLength="16.14" lengthAdjust="spacingAndGlyphs">18</text>
<text x="677.28" y="617.9" font-size="15.4" fill="#131722" text-anchor="start" font-weight="normal" textLength="15.83" lengthAdjust="spacingAndGlyphs">24</text>
<text x="836.58" y="617.9" font-size="15.4" fill="#131722" text-anchor="start" font-weight="bold" textLength="25.31" lengthAdjust="spacingAndGlyphs">Oct</text>
<text x="976.13" y="617.9" font-size="15.4" fill="#131722" text-anchor="start" font-weight="normal" textLength="9.42" lengthAdjust="spacingAndGlyphs">7</text>
<text x="1104.20" y="617.9" font-size="15.4" fill="#131722" text-anchor="start" font-weight="normal" textLength="14.53" lengthAdjust="spacingAndGlyphs">11</text>
<text x="1235.23" y="617.9" font-size="15.4" fill="#131722" text-anchor="start" font-weight="normal" textLength="15.57" lengthAdjust="spacingAndGlyphs">17</text>
<text x="1365.45" y="617.9" font-size="15.4" fill="#131722" text-anchor="start" font-weight="normal" textLength="16.50" lengthAdjust="spacingAndGlyphs">23</text>
<text x="1497.03" y="617.9" font-size="15.4" fill="#131722" text-anchor="start" font-weight="normal" textLength="16.99" lengthAdjust="spacingAndGlyphs">29</text>
<g transform="translate(13.05,643.35) scale(0.686,0.668)" fill="#131722"><path d="M14 22H7V11H0V4h14v18zM28 22h-8l7.5-18h8L28 22z"/><circle cx="20" cy="8" r="4"/></g>
<text x="41.64" y="657.8" font-size="15.2" fill="#131722" text-anchor="start" font-weight="normal" textLength="87.92" lengthAdjust="spacingAndGlyphs">TradingView</text>
</svg>
</body></html>
